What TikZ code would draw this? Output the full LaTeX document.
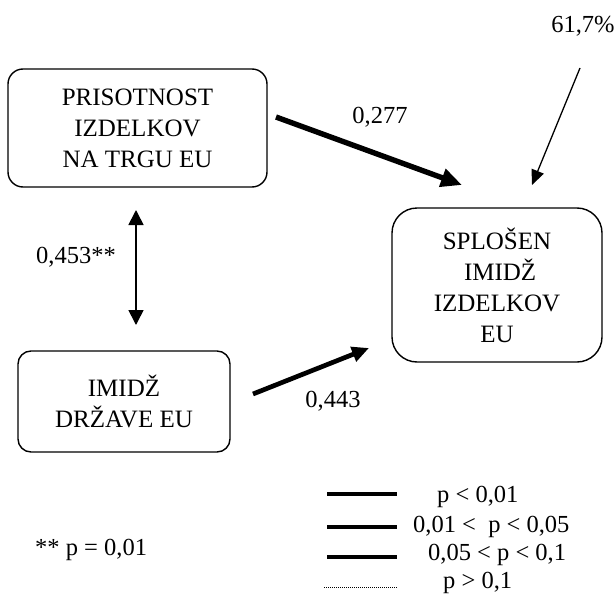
\documentclass[tikz,border=0pt]{standalone}
\usepackage{fontspec}
\setmainfont{Liberation Serif}
\usetikzlibrary{arrows.meta}
\begin{document}
\begin{tikzpicture}[x=1pt,y=-1pt,
  txt/.style={font=\fontsize{25}{31}\selectfont,inner sep=0pt},
  lab/.style={font=\fontsize{24.5}{28}\selectfont,inner sep=0pt},
  factor/.style={draw,line width=1.4pt,align=center,txt,anchor=center},
  bigtip/.style={-{Triangle[length=21pt,width=18pt]}},
  midtip/.style={-{Triangle[length=17pt,width=15pt]}},
  thintip/.style={-{Triangle[length=15pt,width=13pt]}}
]
\useasboundingbox (0,0) rectangle (616,597);

% factor boxes
\node[factor,rounded corners=15pt,minimum width=259pt,minimum height=118pt] (pris) at (137.5,128) {PRISOTNOST\\IZDELKOV\\NA TRGU EU};
\node[factor,rounded corners=25pt,minimum width=210pt,minimum height=154pt] (splo) at (497,285) {SPLOŠEN\\\ IMIDŽ\\IZDELKOV\\EU};
\node[factor,rounded corners=13pt,minimum width=212pt,minimum height=101pt] (drz) at (124,401.5) {IMIDŽ\\DRŽAVE EU};

% arrow end points
\coordinate (a1s) at (276,117);
\coordinate (a1e) at (462,185);
\coordinate (a2s) at (253,394);
\coordinate (a2e) at (369,348);
\coordinate (a3s) at (580,68);
\coordinate (a3e) at (532,185);
\coordinate (a4s) at (136,210);
\coordinate (a4e) at (136,325);

% paths
\draw[line width=5.4pt,bigtip] (a1s) -- (a1e);
\draw[line width=4.7pt,midtip] (a2s) -- (a2e);
\draw[line width=1.3pt,thintip] (a3s) -- (a3e);
\draw[line width=1.7pt,{Triangle[length=15pt,width=15pt]}-{Triangle[length=15pt,width=15pt]}] (a4s) -- (a4e);

% coefficients
\node[lab] (l277) at (380,117) {0,277};
\node[lab] (l443) at (333,401) {0,443};
\node[lab] (l617) at (583,26) {61,7\%};
\node[lab] (l453) at (76,257) {0,453**};

% legend
\node[lab,anchor=west] (sig) at (35,550) {** p = 0,01};
\coordinate (g1a) at (327,494); \coordinate (g1b) at (397,494);
\coordinate (g2a) at (327,527); \coordinate (g2b) at (397,527);
\coordinate (g3a) at (327,557); \coordinate (g3b) at (397,557);
\coordinate (g4a) at (324,587); \coordinate (g4b) at (397,587);
\draw[line width=4.6pt] (g1a) -- (g1b);
\draw[line width=3.9pt] (g2a) -- (g2b);
\draw[line width=3.1pt] (g3a) -- (g3b);
\draw[line width=0.8pt,dash pattern=on 0.8pt off 1.2pt] (g4a) -- (g4b);
\node[lab,anchor=base west] (t1) at (437,502) {p < 0,01};
\node[lab,anchor=base west] (t2) at (413,532) {0,01 <\ \ p < 0,05};
\node[lab,anchor=base west] (t3) at (428,560) {0,05 < p < 0,1};
\node[lab,anchor=base west] (t4) at (443,588) {p > 0,1};
\end{tikzpicture}
\end{document}
